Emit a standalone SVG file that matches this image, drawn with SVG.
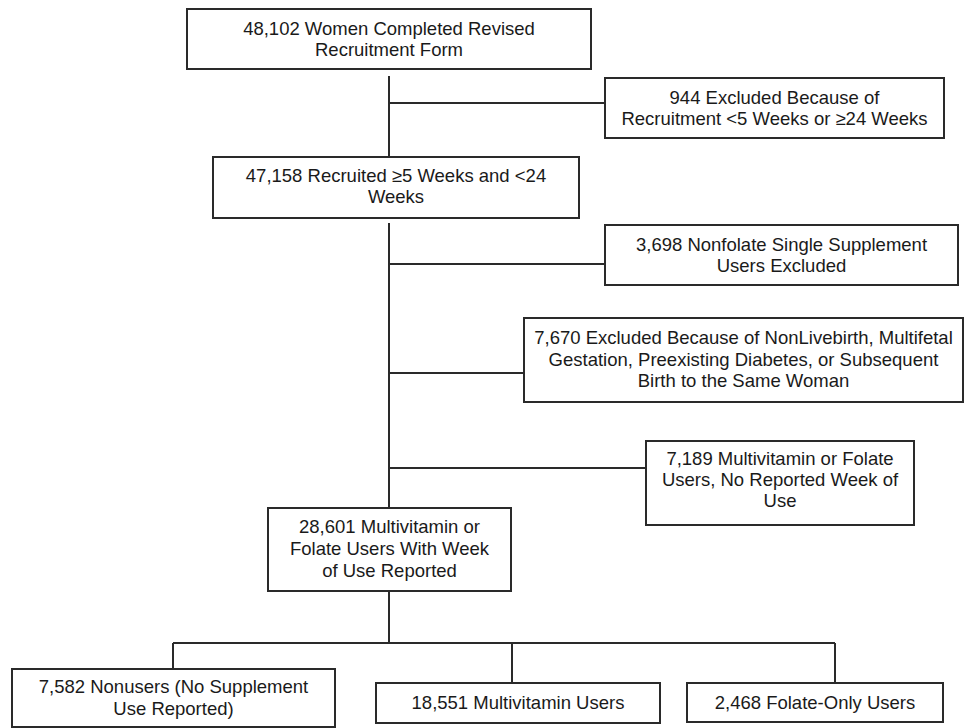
<svg xmlns="http://www.w3.org/2000/svg" width="966" height="728" viewBox="0 0 966 728">
<style>
.box{fill:#fff;stroke:#2a2a2a;stroke-width:2}
.ln{fill:none;stroke:#2a2a2a;stroke-width:2}
text{font-family:"Liberation Sans",Arial,sans-serif;font-size:18.5px;fill:#1a1a1a;text-anchor:middle}
</style>
<rect width="966" height="728" fill="#fff"/>
<g id="connectors">
<path class="ln" d="M389 76V157M389 103H605M389 223V508M389 264H605M389 373H524M389 468H646M389 591V643M173 643H835M173 643V669M512 643V683M835 643V683"/>
</g>
<g id="n1"><rect class="box" x="187" y="9" width="404" height="60"/><text x="389" y="35">48,102 Women Completed Revised</text><text x="389" y="56">Recruitment Form</text></g>
<g id="n2"><rect class="box" x="605" y="78" width="339" height="60"/><text x="774.5" y="104">944 Excluded Because of</text><text x="774.5" y="125">Recruitment &lt;5 Weeks or ≥24 Weeks</text></g>
<g id="n3"><rect class="box" x="213" y="157" width="366" height="61"/><text x="396" y="182">47,158 Recruited ≥5 Weeks and &lt;24</text><text x="396" y="203">Weeks</text></g>
<g id="n4"><rect class="box" x="605" y="225" width="353" height="60"/><text x="781.5" y="251">3,698 Nonfolate Single Supplement</text><text x="781.5" y="272">Users Excluded</text></g>
<g id="n5"><rect class="box" x="524" y="318" width="439" height="84"/><text x="743.5" y="344">7,670 Excluded Because of NonLivebirth, Multifetal</text><text x="743.5" y="365.5">Gestation, Preexisting Diabetes, or Subsequent</text><text x="743.5" y="387">Birth to the Same Woman</text></g>
<g id="n6"><rect class="box" x="646" y="441" width="268" height="84"/><text x="780" y="465">7,189 Multivitamin or Folate</text><text x="780" y="486">Users, No Reported Week of</text><text x="780" y="507">Use</text></g>
<g id="n7"><rect class="box" x="268" y="508" width="243" height="83"/><text x="389.5" y="533">28,601 Multivitamin or</text><text x="389.5" y="555">Folate Users With Week</text><text x="389.5" y="577">of Use Reported</text></g>
<g id="n8"><rect class="box" x="12" y="669" width="323" height="58"/><text x="173.5" y="693">7,582 Nonusers (No Supplement</text><text x="173.5" y="715">Use Reported)</text></g>
<g id="n9"><rect class="box" x="376" y="683" width="284" height="40"/><text x="518" y="709">18,551 Multivitamin Users</text></g>
<g id="n10"><rect class="box" x="687" y="683" width="256" height="39"/><text x="815" y="709">2,468 Folate-Only Users</text></g>
</svg>
